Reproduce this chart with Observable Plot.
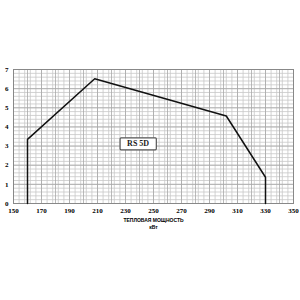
<!DOCTYPE html>
<html><head><meta charset="utf-8">
<script src="https://cdn.jsdelivr.net/npm/d3@7"></script>
<script src="https://cdn.jsdelivr.net/npm/@observablehq/plot@0.6"></script>
<style>body{margin:0;background:#fff}</style>
</head><body><div id="chart"></div>
<script>
const powerKW = [160, 160, 208, 302, 330, 330];
const pressure = [0, 3.35, 6.52, 4.57, 1.37, 0];
const xTicks = [150,170,190,210,230,250,270,290,310,330,350];
const yTicks = [0,1,2,3,4,5,6,7];
const modelLabel = "RS 5D";
const axisTitle = "ТЕПЛОВАЯ МОЩНОСТЬ\nкВт";

const pts = powerKW.map((x,i)=>({x, y: pressure[i]}));
const xMinor = d3.range(150, 350.01, 4);
const yMinor = d3.range(0, 7.01, 0.2);
const xMajor = d3.range(150, 350.01, 10);

const chart = Plot.plot({
  width: 300, height: 300,
  marginLeft: 13, marginRight: 7, marginTop: 69, marginBottom: 97,
  x: {domain: [150, 350]},
  y: {domain: [0, 7]},
  style: {fontFamily: "Liberation Serif", fontSize: "7px", color: "#000"},
  marks: [
    Plot.ruleX(xMinor, {stroke: "#c8c8c8", strokeWidth: 0.8}),
    Plot.ruleY(yMinor, {stroke: "#c8c8c8", strokeWidth: 0.8}),
    Plot.ruleX(xMajor, {stroke: "#a8a8a8", strokeWidth: 0.8}),
    Plot.ruleY(yTicks, {stroke: "#a8a8a8", strokeWidth: 0.8}),
    Plot.frame({stroke: "#888"}),
    Plot.axisX({ticks: xTicks, tickSize: 0, tickPadding: 5, label: null, fontWeight: "bold", tickFormat: d => String(d)}),
    Plot.axisY({ticks: yTicks, tickSize: 0, tickPadding: 5, label: null, fontWeight: "bold", tickFormat: d => String(d)}),
    Plot.line(pts, {x: "x", y: "y", stroke: "#111", strokeWidth: 1.5}),
    Plot.text([modelLabel], {x: [239], y: [3.12], text: d => d, fontFamily: "Liberation Serif", fontWeight: "bold", fontSize: 8, fill: "#222"}),
    Plot.text([axisTitle], {frameAnchor: "bottom", dy: 14, lineAnchor: "top", text: d => d, fontFamily: "Liberation Sans", fontWeight: "bold", fontSize: 5, lineHeight: 1.4})
  ]
});
document.getElementById("chart").append(chart);
const txt = [...chart.querySelectorAll("text")].find(t => t.textContent === modelLabel);
if (txt) {
  const bb = txt.getBBox();
  const r = document.createElementNS("http://www.w3.org/2000/svg", "rect");
  r.setAttribute("x", bb.x - 7); r.setAttribute("y", bb.y - 1.5);
  r.setAttribute("width", bb.width + 14); r.setAttribute("height", bb.height + 3);
  r.setAttribute("fill", "#fff"); r.setAttribute("stroke", "#555"); r.setAttribute("stroke-width", 1.2);
  r.setAttribute("rx", 1);
  const tr = txt.getAttribute("transform");
  if (tr) r.setAttribute("transform", tr);
  txt.parentNode.insertBefore(r, txt);
}
</script></body></html>
